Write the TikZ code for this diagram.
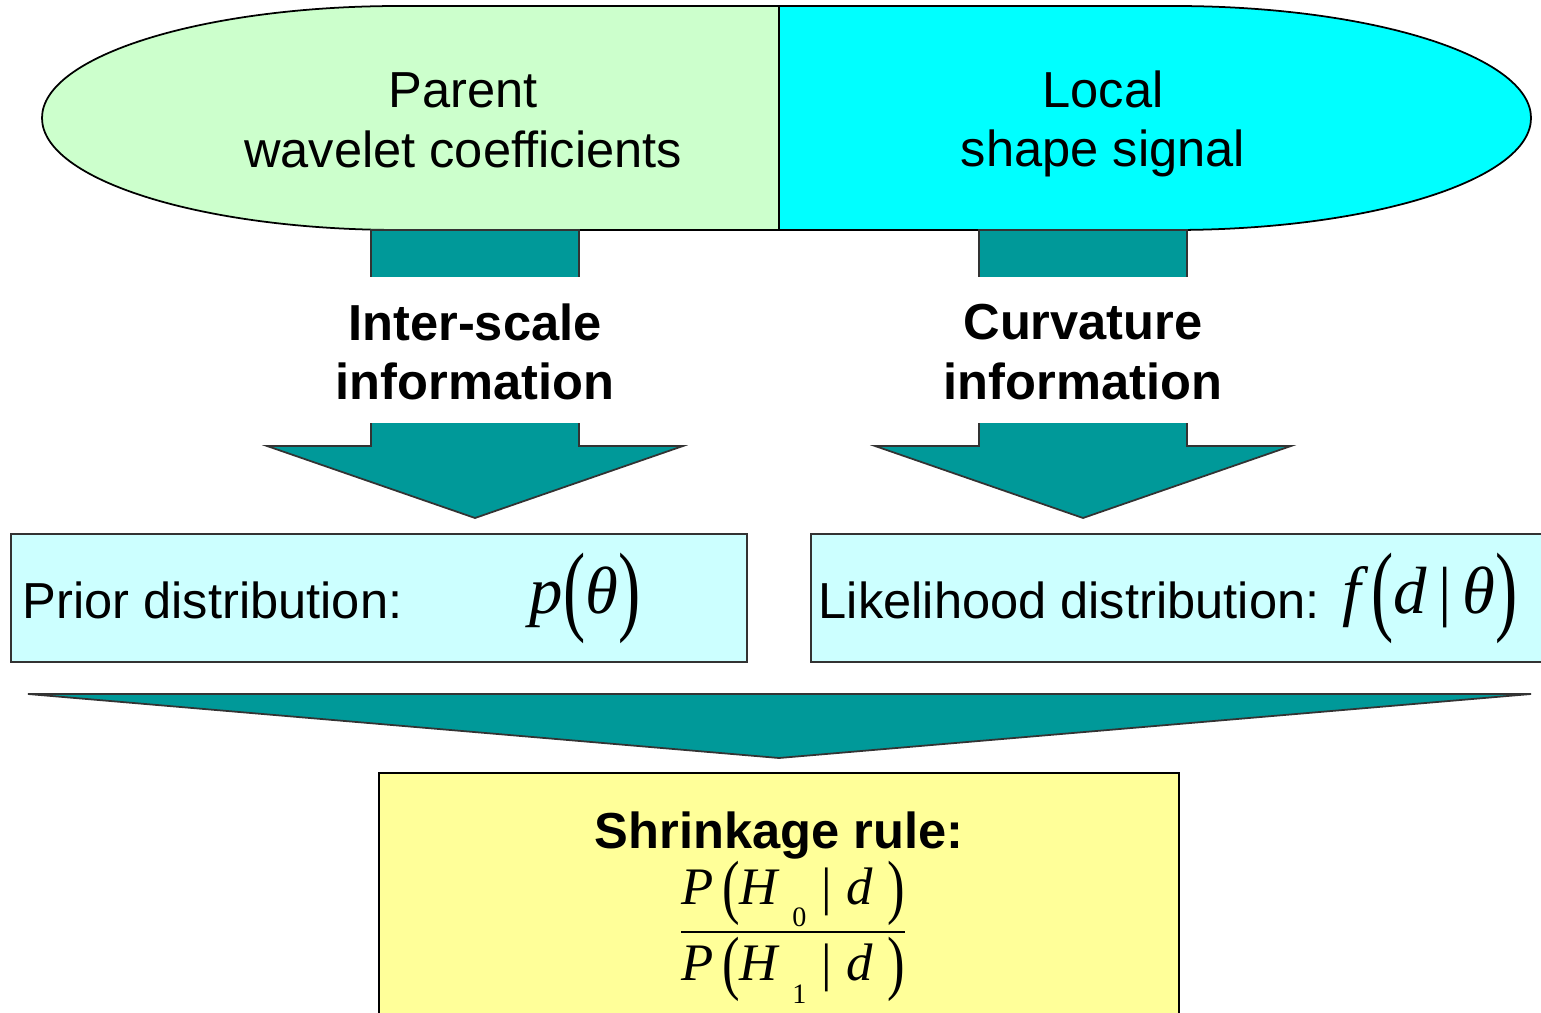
\documentclass[tikz,border=0pt]{standalone}
\usepackage{fontspec}
\usepackage{graphicx}
\setmainfont{Liberation Sans}
\newfontfamily\timesf{Liberation Serif}
\usetikzlibrary{calc}
\definecolor{teal1}{HTML}{009999}
\definecolor{parentgreen}{HTML}{CCFFCC}
\definecolor{localcyan}{HTML}{00FFFF}
\definecolor{distcyan}{HTML}{CCFFFF}
\definecolor{ruleyellow}{HTML}{FFFF99}
\newcommand{\mv}[1]{{\timesf\itshape #1}}
\newcommand{\tall}[1]{\raisebox{-0.25ex}{\scalebox{1}[1.5]{\timesf #1}}}
\newcommand{\ftall}[1]{\raisebox{-0.2ex}{\scalebox{1}[1.35]{\timesf #1}}}
\tikzstyle{txt} = [align=center,font=\fontsize{14.4}{17}\selectfont,inner sep=0pt]
\tikzstyle{btxt} = [txt,font=\fontsize{14.4}{17}\selectfont\bfseries]
\tikzstyle{blk} = [draw=black!80,line width=0.5pt,fill=teal1]
\tikzstyle{dist} = [draw=black!80,line width=0.5pt,fill=distcyan]

\begin{document}
\begin{tikzpicture}[x=0.1mm,y=-0.1mm]
\useasboundingbox (0,0) rectangle (1541,1013);

% top: two halves of the oval
\draw[line width=0.5pt,fill=parentgreen] (779,6) -- (400,6)
  arc[start angle=-90,end angle=-270,x radius=358,y radius=112] -- (779,230) -- cycle;
\draw[line width=0.5pt,fill=localcyan] (779,6) -- (1174,6)
  arc[start angle=-90,end angle=90,x radius=357,y radius=112] -- (779,230) -- cycle;
\node[txt] (parent) at (463,120) {Parent\\wavelet coefficients};
\node[txt] (local) at (1103,124) {Local\\shape signal};

% block arrows
\draw[blk] (371,230) -- (579,230) -- (579,446) -- (683,446) -- (475,518)
  -- (267,446) -- (371,446) -- cycle;
\draw[blk] (979,230) -- (1187,230) -- (1187,446) -- (1291,446) -- (1083,518)
  -- (875,446) -- (979,446) -- cycle;
\fill[white] (360,277) rectangle (700,423);
\fill[white] (960,277) rectangle (1300,423);
\node[btxt] (interscale) at (475,352) {Inter-scale\\information};
\node[btxt] (curvature) at (1083,352) {Curvature\\information};

% distributions
\draw[dist] (11,534) rectangle (747,662);
\draw[dist] (811,534) rectangle (1560,662);
\node[txt,anchor=west] (prior) at (22,600) {Prior distribution:};
\node[inner sep=0pt,font=\fontsize{19}{22}\selectfont] (priorf) at (585,598)
  {\mv{p}\tall{(}\mv{θ}\tall{)}};
\node[txt,anchor=west] (likelihood) at (818,600) {Likelihood distribution:};
\node[inner sep=0pt,font=\fontsize{19}{22}\selectfont] (likef) at (1430,598)
  {\mv{f}\,\tall{(}\mv{d}\,{\timesf|}\,\mv{θ}\tall{)}};

% big arrow
\draw[blk] (28,694) -- (1531,694) -- (779,758) -- cycle;

% shrinkage rule
\draw[line width=0.5pt,fill=ruleyellow] (379,773) rectangle (1179,1030);
\node[btxt] (shrink) at (779,836) {Shrinkage rule:};
\node[inner sep=0pt,font=\fontsize{15}{18}\selectfont] (ratio) at (793,932)
  {$\displaystyle{\hbox{\mv{P}\,\ftall{(}\mv{H}\;\raisebox{-0.8ex}{\timesf\footnotesize 0}\;{\timesf|}\;\mv{d}\;\ftall{)}}
  \over\hbox{\mv{P}\,\ftall{(}\mv{H}\;\raisebox{-0.8ex}{\timesf\footnotesize 1}\;{\timesf|}\;\mv{d}\;\ftall{)}}}$};

\end{tikzpicture}
\end{document}
